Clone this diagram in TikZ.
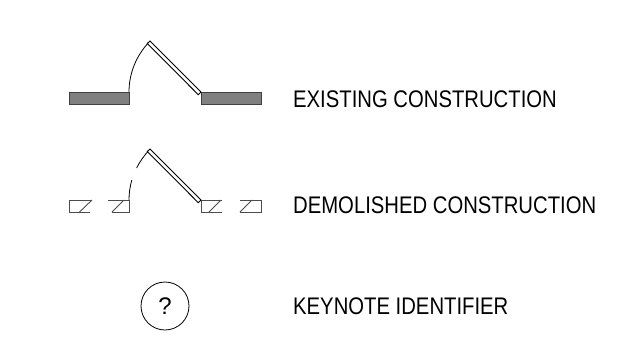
\documentclass[tikz,border=0pt]{standalone}
\usepackage{fontspec}
\setmainfont{Liberation Sans}
\tikzset{
    wall/.style={draw=black!75, fill=black!50, line width=0.9pt},
    demo/.style={draw=black!70, line width=0.9pt},
    leaf/.style={draw=black, fill=white, line width=0.9pt},
    swing/.style={draw=black, line width=0.8pt},
    legend/.style={anchor=west, inner sep=0pt, xscale=0.845, font=\fontsize{24}{26}\selectfont}
}
\begin{document}
\begin{tikzpicture}[x=1pt,y=-1pt]
        \useasboundingbox (0,0) rectangle (622,346);

        % existing
        \draw[wall] (69,92) rectangle (129,104);
        \draw[wall] (201,92) rectangle (261,104);
        \draw[swing] (129,92) arc[start angle=180, end angle=224, radius=72];
        \draw[leaf] (201,92) -- (150,41) -- (147.3,43.5) -- (198.3,94.7) -- cycle;
        \node[legend] (existing) at (293,99) {EXISTING CONSTRUCTION};

        % demolished
        \draw[demo] (92,200) -- (69,200) -- (69,212) -- (90,212);
        \draw[demo] (79.5,212) -- (92,200);
        \draw[demo] (108,200) -- (129,200) -- (129,212) -- (112,212);
        \draw[demo] (112,212) -- (124,200);
        \draw[demo] (222,200) -- (201,200) -- (201,212) -- (222,212);
        \draw[demo] (209,212) -- (221,200);
        \draw[demo] (240,200) -- (261,200) -- (261,212) -- (240,212);
        \draw[demo] (240,212) -- (252,200);
        \draw[swing] (129,200) arc[start angle=180, end angle=196, radius=72];
        \draw[swing] (136.6,168) arc[start angle=206.5, end angle=224, radius=72];
        \draw[leaf] (201,200) -- (150,149) -- (147.3,151.5) -- (198.3,202.7) -- cycle;
        \node[legend] (demolished) at (293,205) {DEMOLISHED CONSTRUCTION};

        % keynote
        \node[draw, circle, minimum size=48pt, inner sep=0pt, line width=0.8pt] (key) at (165,306) {};
        \node[inner sep=0pt, font=\fontsize{24}{26}\selectfont] (mark) at (key.center) {?};
        \node[legend] (keynote) at (293,306) {KEYNOTE IDENTIFIER};
\end{tikzpicture}
\end{document}
